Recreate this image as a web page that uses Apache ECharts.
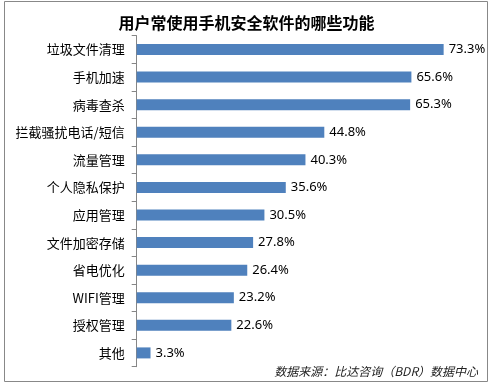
<!DOCTYPE html>
<html>
<head>
<meta charset="utf-8">
<script src="https://cdn.jsdelivr.net/npm/echarts@6/dist/echarts.min.js"></script>
<style>html,body{margin:0;padding:0;background:#fff;}#c{width:493px;height:388px;}</style>
</head>
<body>
<div id="c"></div>
<script>
var titleText = '用户常使用手机安全软件的哪些功能';
var categories = ['垃圾文件清理','手机加速','病毒查杀','拦截骚扰电话/短信','流量管理','个人隐私保护','应用管理','文件加密存储','省电优化','WIFI管理','授权管理','其他'];
var values = [73.3,65.6,65.3,44.8,40.3,35.6,30.5,27.8,26.4,23.2,22.6,3.3];
var sourceText = '数据来源：比达咨询（BDR）数据中心';

var chart = echarts.init(document.getElementById('c'), null, {renderer:'canvas'});
chart.setOption({
  animation:false,
  backgroundColor:'#fff',
  title:{
    text:titleText, left:'center', top:10,
    textStyle:{fontFamily:'Noto Sans CJK SC', fontSize:16, fontWeight:'bold', color:'#000'}
  },
  grid:{left:136.7, right:21.3, top:35.7, bottom:21.3},
  xAxis:{type:'value', min:0, max:80, show:false},
  yAxis:{
    type:'category', data:categories, inverse:true,
    axisLine:{show:true, lineStyle:{color:'#868686', width:1}},
    axisTick:{show:true, length:5, lineStyle:{color:'#868686'}},
    axisLabel:{fontFamily:'Noto Sans CJK SC', fontSize:13, color:'#000', margin:12}
  },
  series:[{
    type:'bar', data:values, barWidth:11,
    itemStyle:{color:'#4F81BD'},
    label:{show:true, position:'right', distance:5, formatter:function(p){return p.value.toFixed(1)+'%';},
      fontFamily:'Noto Sans, sans-serif', fontSize:13, color:'#000'}
  }],
  graphic:[
    {type:'rect', shape:{x:4.5, y:1.5, width:483, height:380}, style:{fill:null, stroke:'#888', lineWidth:1}, silent:true},
    {type:'text', right:15, top:365, style:{text:sourceText, font:'italic 12px "Noto Sans CJK SC"', fill:'#222'}}
  ]
});
</script>
</body>
</html>
